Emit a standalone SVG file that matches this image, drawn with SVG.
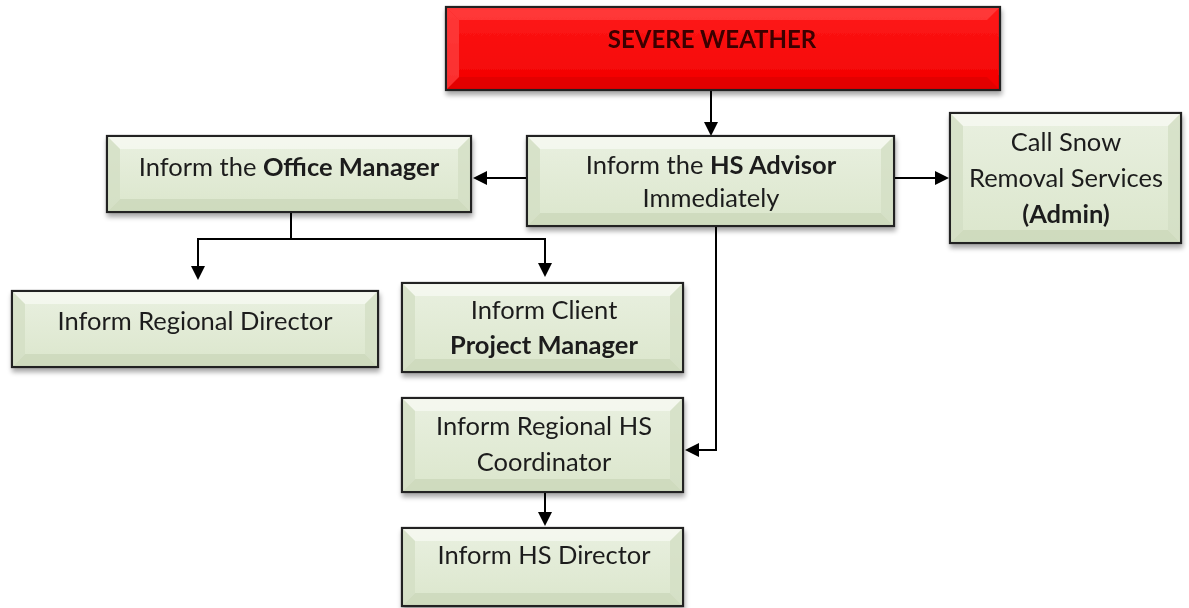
<svg xmlns="http://www.w3.org/2000/svg" width="1189" height="608" viewBox="0 0 1189 608">
  <defs>
    <linearGradient id="greenFill" x1="0" y1="0" x2="0" y2="1">
      <stop offset="0" stop-color="#e9f0e0"/>
      <stop offset="1" stop-color="#dbe6cc"/>
    </linearGradient>
    <linearGradient id="redFill" x1="0" y1="0" x2="0" y2="1">
      <stop offset="0" stop-color="#ff1a1a"/>
      <stop offset="1" stop-color="#f20000"/>
    </linearGradient>
    <filter id="shadow" x="-5%" y="-10%" width="110%" height="130%">
      <feGaussianBlur in="SourceAlpha" stdDeviation="2.5"/>
      <feOffset dx="1" dy="4"/>
      <feComponentTransfer><feFuncA type="linear" slope="0.35"/></feComponentTransfer>
      <feMerge><feMergeNode/><feMergeNode in="SourceGraphic"/></feMerge>
    </filter>
    <marker id="arrow" markerWidth="14" markerHeight="14" refX="12" refY="7" orient="auto" markerUnits="userSpaceOnUse">
      <path d="M0,0 L14,7 L0,14 Z" fill="#000"/>
    </marker>
  </defs>
  <style>
    .box { stroke: #222; stroke-width: 2.2; }
    .green { fill: url(#greenFill); }
    .red { fill: url(#redFill); }
    .hi { fill: #f6f9f1; opacity: 0.8; }
    .lo { fill: #c9d6b8; opacity: 0.7; }
    .side { fill: #d3dec4; opacity: 0.8; }
    .rhi { fill: #ff4d4d; opacity: 0.6; }
    .rlo { fill: #d40000; opacity: 0.5; }
    .link { fill: none; stroke: #000; stroke-width: 2; }
    text { font-family: Lato, "Open Sans", "Liberation Sans", sans-serif; font-size: 25.5px; fill: #1c1c1c; text-anchor: middle; }
    .b { font-weight: bold; }
    .title { font-weight: bold; font-size: 24px; fill: #3a0000; }
  </style>

  <!-- connectors -->
  <g id="connectors">
    <line class="link" x1="711" y1="90" x2="711" y2="134" marker-end="url(#arrow)"/>
    <line class="link" x1="526" y1="178" x2="475" y2="178" marker-end="url(#arrow)"/>
    <line class="link" x1="895" y1="178" x2="947" y2="178" marker-end="url(#arrow)"/>
    <polyline class="link" points="291,212 291,239 198,239 198,278" marker-end="url(#arrow)"/>
    <polyline class="link" points="291,239 545,239 545,275" marker-end="url(#arrow)"/>
    <polyline class="link" points="716,226 716,450 687,450" marker-end="url(#arrow)"/>
    <line class="link" x1="545" y1="493" x2="545" y2="524" marker-end="url(#arrow)"/>
  </g>

  <!-- SEVERE WEATHER -->
  <g id="severe-weather" filter="url(#shadow)">
    <rect class="box red" x="446" y="7" width="554" height="83"/>
    <polygon class="rhi" points="447,8 999,8 987,20 459,20"/>
    <polygon class="rlo" points="447,89 999,89 987,77 459,77"/>
    <polygon class="rhi" points="447,8 459,20 459,77 447,89"/>
    <text class="title" x="712" y="48">SEVERE WEATHER</text>
  </g>

  <!-- Inform the HS Advisor -->
  <g id="hs-advisor" filter="url(#shadow)">
    <rect class="box green" x="527" y="136" width="367" height="90"/>
    <polygon class="hi" points="528,137 893,137 881,149 540,149"/>
    <polygon class="lo" points="528,225 893,225 881,213 540,213"/>
    <polygon class="side" points="528,137 540,149 540,213 528,225"/>
    <polygon class="side" points="893,137 881,149 881,213 893,225"/>
    <text x="711" y="174">Inform the <tspan class="b">HS Advisor</tspan></text>
    <text x="711" y="207">Immediately</text>
  </g>

  <!-- Inform the Office Manager -->
  <g id="office-manager" filter="url(#shadow)">
    <rect class="box green" x="107" y="136" width="364" height="76"/>
    <polygon class="hi" points="108,137 470,137 458,149 120,149"/>
    <polygon class="lo" points="108,211 470,211 458,199 120,199"/>
    <polygon class="side" points="108,137 120,149 120,199 108,211"/>
    <polygon class="side" points="470,137 458,149 458,199 470,211"/>
    <text x="289" y="176">Inform the <tspan class="b">Office Manager</tspan></text>
  </g>

  <!-- Call Snow Removal Services -->
  <g id="snow-removal" filter="url(#shadow)">
    <rect class="box green" x="950" y="113" width="231" height="130"/>
    <polygon class="hi" points="951,114 1180,114 1168,126 963,126"/>
    <polygon class="lo" points="951,242 1180,242 1168,230 963,230"/>
    <polygon class="side" points="951,114 963,126 963,230 951,242"/>
    <polygon class="side" points="1180,114 1168,126 1168,230 1180,242"/>
    <text x="1066" y="151">Call Snow</text>
    <text x="1066" y="187">Removal Services</text>
    <text class="b" x="1066" y="223">(Admin)</text>
  </g>

  <!-- Inform Regional Director -->
  <g id="regional-director" filter="url(#shadow)">
    <rect class="box green" x="12" y="291" width="366" height="76"/>
    <polygon class="hi" points="13,292 377,292 365,304 25,304"/>
    <polygon class="lo" points="13,366 377,366 365,354 25,354"/>
    <polygon class="side" points="13,292 25,304 25,354 13,366"/>
    <polygon class="side" points="377,292 365,304 365,354 377,366"/>
    <text x="195" y="330">Inform Regional Director</text>
  </g>

  <!-- Inform Client Project Manager -->
  <g id="client-pm" filter="url(#shadow)">
    <rect class="box green" x="402" y="283" width="281" height="89"/>
    <polygon class="hi" points="403,284 682,284 670,296 415,296"/>
    <polygon class="lo" points="403,371 682,371 670,359 415,359"/>
    <polygon class="side" points="403,284 415,296 415,359 403,371"/>
    <polygon class="side" points="682,284 670,296 670,359 682,371"/>
    <text x="544" y="319">Inform Client</text>
    <text class="b" x="544" y="354">Project Manager</text>
  </g>

  <!-- Inform Regional HS Coordinator -->
  <g id="regional-hs-coordinator" filter="url(#shadow)">
    <rect class="box green" x="402" y="398" width="281" height="94"/>
    <polygon class="hi" points="403,399 682,399 670,411 415,411"/>
    <polygon class="lo" points="403,491 682,491 670,479 415,479"/>
    <polygon class="side" points="403,399 415,411 415,479 403,491"/>
    <polygon class="side" points="682,399 670,411 670,479 682,491"/>
    <text x="544" y="435">Inform Regional HS</text>
    <text x="544" y="471">Coordinator</text>
  </g>

  <!-- Inform HS Director -->
  <g id="hs-director" filter="url(#shadow)">
    <rect class="box green" x="402" y="528" width="281" height="78"/>
    <polygon class="hi" points="403,529 682,529 670,541 415,541"/>
    <polygon class="lo" points="403,605 682,605 670,593 415,593"/>
    <polygon class="side" points="403,529 415,541 415,593 403,605"/>
    <polygon class="side" points="682,529 670,541 670,593 682,605"/>
    <text x="544" y="564">Inform HS Director</text>
  </g>
</svg>
